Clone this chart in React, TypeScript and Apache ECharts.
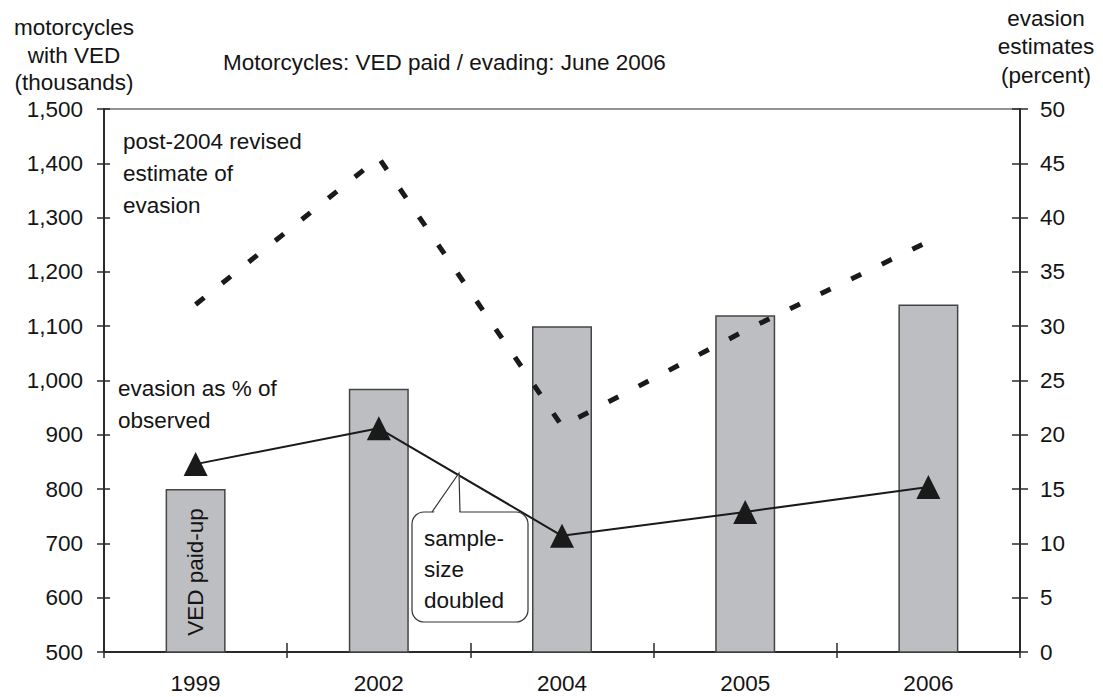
import React, { useEffect, useRef } from 'react';
import * as echarts from 'echarts';

// ---- data ----
const years = ['1999', '2002', '2004', '2005', '2006'];
const vedPaidUp = [800, 985, 1100, 1120, 1140]; // thousands
const evasionObserved = [17.3, 20.6, 10.7, 12.9, 15.2]; // percent
const evasionRevised = [32.0, 45.5, 20.8, 29.6, 37.8]; // percent

const leftRange = { min: 500, max: 1500, interval: 100 };
const rightRange = { min: 0, max: 50, interval: 5 };

const titleText = 'Motorcycles: VED paid / evading: June 2006';
const leftName = 'motorcycles\nwith VED\n(thousands)';
const rightName = 'evasion\nestimates\n(percent)';
const noteRevised = 'post-2004 revised\nestimate of\nevasion';
const noteObserved = 'evasion as % of\nobserved';
const noteSample = 'sample-\nsize\ndoubled';
const barNote = 'VED paid-up';

export default function App() {
  const ref = useRef<HTMLDivElement>(null);

  useEffect(() => {
    document.body.style.margin = '0';
    const chart = echarts.init(ref.current as HTMLDivElement, null, { renderer: 'svg' });
    const font = '"Liberation Sans", Arial, Helvetica, sans-serif';
    const fs = 22.5;
    const ink = '#141414';
    const axisColor = '#2a2a2a';

    const txt = (text: string, x: number, y: number, align: string, lineHeight: number, z = 20) => ({
      type: 'text',
      x,
      y,
      z,
      style: {
        text,
        fill: ink,
        fontSize: fs,
        fontFamily: font,
        align,
        verticalAlign: 'middle',
        lineHeight,
      },
    });

    chart.setOption({
      animation: false,
      backgroundColor: '#ffffff',
      grid: {
        left: 104,
        right: 83,
        top: 109,
        bottom: 45,
        show: true,
        borderColor: '#707070',
        borderWidth: 1.5,
        backgroundColor: 'transparent',
        containLabel: false,
        outerBoundsMode: 'none',
      },
      xAxis: [
        {
          type: 'category',
          data: years,
          position: 'bottom',
          boundaryGap: true,
          axisLine: { show: true, lineStyle: { color: axisColor, width: 2 } },
          axisTick: { show: true, inside: false, length: 6, lineStyle: { color: axisColor, width: 1.5 } },
          axisLabel: { color: ink, fontSize: fs, fontFamily: font, margin: 20 },
          splitLine: { show: false },
        },
        {
          type: 'category',
          data: years,
          position: 'bottom',
          boundaryGap: true,
          axisLine: { show: false },
          axisTick: { show: true, inside: true, length: 9, lineStyle: { color: axisColor, width: 1.5 } },
          axisLabel: { show: false },
          splitLine: { show: false },
        },
      ],
      yAxis: [
        {
          type: 'value',
          position: 'left',
          ...leftRange,
          axisLine: { show: true, lineStyle: { color: axisColor, width: 2 } },
          axisTick: { show: true, inside: false, length: 7, lineStyle: { color: axisColor, width: 1.5 } },
          axisLabel: {
            color: ink,
            fontSize: fs,
            fontFamily: font,
            margin: 21,
            formatter: (v: number) => v.toLocaleString('en-US'),
          },
          splitLine: { show: false },
        },
        {
          type: 'value',
          position: 'right',
          ...rightRange,
          axisLine: { show: true, lineStyle: { color: axisColor, width: 2 } },
          axisTick: { show: true, inside: false, length: 8, lineStyle: { color: axisColor, width: 1.5 } },
          axisLabel: { color: ink, fontSize: fs, fontFamily: font, margin: 20 },
          splitLine: { show: false },
        },
        {
          type: 'value',
          position: 'left',
          ...leftRange,
          axisLine: { show: false },
          axisTick: { show: true, inside: true, length: 6, lineStyle: { color: axisColor, width: 1.5 } },
          axisLabel: { show: false },
          splitLine: { show: false },
        },
        {
          type: 'value',
          position: 'right',
          ...rightRange,
          axisLine: { show: false },
          axisTick: { show: true, inside: true, length: 8, lineStyle: { color: axisColor, width: 1.5 } },
          axisLabel: { show: false },
          splitLine: { show: false },
        },
      ],
      series: [
        {
          type: 'bar',
          xAxisIndex: 0,
          yAxisIndex: 0,
          barWidth: 60,
          z: 2,
          itemStyle: { color: '#bdbec2', borderColor: '#454545', borderWidth: 1.5 },
          data: vedPaidUp.map((v, i) =>
            i === 0
              ? {
                  value: v,
                  label: {
                    show: true,
                    position: 'insideBottom',
                    rotate: 90,
                    align: 'left',
                    verticalAlign: 'middle',
                    distance: 17,
                    formatter: barNote,
                    color: ink,
                    fontSize: fs,
                    fontFamily: font,
                  },
                }
              : v
          ),
        },
        {
          type: 'line',
          xAxisIndex: 0,
          yAxisIndex: 1,
          data: evasionRevised,
          symbol: 'none',
          z: 3,
          lineStyle: { color: '#1a1a1a', width: 5, type: [11, 23], cap: 'butt' },
        },
        {
          type: 'line',
          xAxisIndex: 0,
          yAxisIndex: 1,
          data: evasionObserved,
          symbol: 'triangle',
          symbolSize: 24,
          z: 4,
          itemStyle: { color: '#1a1a1a' },
          lineStyle: { color: '#1a1a1a', width: 2 },
        },
      ],
      graphic: {
        elements: [
          txt(titleText, 223, 62, 'left', 28),
          txt(leftName, 74, 55, 'center', 27.5),
          txt(rightName, 1046, 46.5, 'center', 28.5),
          txt(noteRevised, 123, 173, 'left', 32),
          txt(noteObserved, 118, 404, 'left', 32),
          {
            type: 'rect',
            z: 10,
            shape: { x: 412, y: 512, width: 116, height: 110, r: 12 },
            style: { fill: '#ffffff', stroke: '#333333', lineWidth: 1.2 },
          },
          {
            type: 'polygon',
            z: 11,
            shape: { points: [[433, 514], [459, 474], [459.5, 514]] },
            style: { fill: '#ffffff' },
          },
          {
            type: 'polyline',
            z: 12,
            shape: { points: [[432, 512], [459, 473], [460, 512]] },
            style: { stroke: '#333333', lineWidth: 1.2, fill: null },
          },
          txt(noteSample, 424, 569, 'left', 31, 13),
        ],
      },
    });

    return () => chart.dispose();
  }, []);

  return <div ref={ref} style={{ width: 1103, height: 697 }} />;
}
